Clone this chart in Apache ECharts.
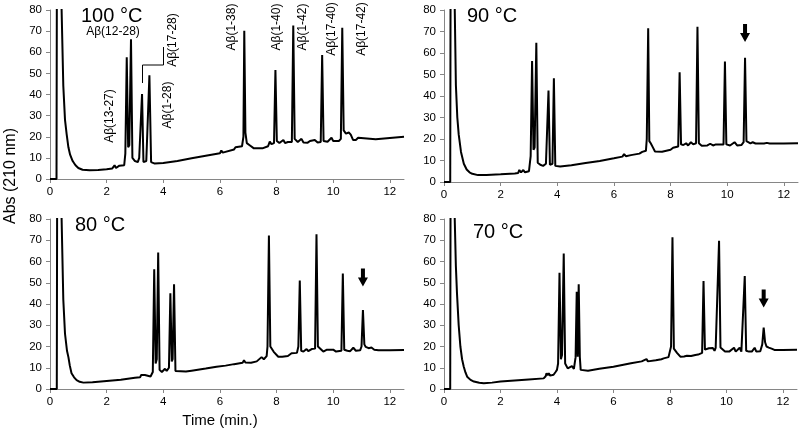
<!DOCTYPE html>
<html>
<head>
<meta charset="utf-8">
<script src="https://cdn.jsdelivr.net/npm/echarts@6/dist/echarts.min.js"></script>
<style>
  html, body { margin: 0; padding: 0; background: #fff; }
  #main { width: 800px; height: 435px; }
</style>
</head>
<body>
<div id="main"></div>
<script>
// chromatograms, [time (min), Abs]
const trace100 = [
  [0, 0], [0.23, 0], [0.25, 150], [0.39, 150], [0.41, 80], [0.47, 44], [0.53, 28], [0.59, 21],
  [0.65, 15], [0.71, 11.5], [0.8, 8.5], [0.9, 6.5], [1.0, 5.2], [1.15, 4.4], [1.4, 4.2], [1.7, 4.3],
  [2.0, 4.6], [2.2, 5.0], [2.28, 6.5], [2.33, 5.2], [2.45, 6.3], [2.52, 5.5], [2.62, 6.5], [2.66, 12],
  [2.71, 57.6], [2.76, 15], [2.8, 16], [2.86, 66.1], [2.91, 10], [3.0, 8.5], [3.1, 8.0], [3.15, 10],
  [3.2, 9.5], [3.25, 40.2], [3.3, 8], [3.4, 8.5], [3.46, 9], [3.51, 49.1], [3.57, 8], [3.7, 7.3],
  [4.0, 7.6], [4.5, 8.5], [5.0, 9.8], [5.5, 11], [6.0, 12.2], [6.05, 13.5], [6.1, 12.5], [6.5, 14],
  [6.55, 15], [6.6, 14.3], [6.78, 15.5], [6.83, 20], [6.86, 70.2], [6.9, 22], [6.95, 17], [7.05, 16],
  [7.2, 14.5], [7.5, 14.5], [7.7, 15.5], [7.76, 17.7], [7.82, 16.5], [7.91, 17], [7.96, 51.6], [8.01, 18],
  [8.1, 17], [8.24, 18.5], [8.3, 17], [8.4, 17.5], [8.54, 17.5], [8.59, 72.6], [8.64, 19], [8.75, 17.5],
  [8.88, 19], [8.95, 17.3], [9.1, 17.2], [9.18, 18], [9.25, 17.2], [9.35, 18.5], [9.45, 17.3], [9.56, 17.5],
  [9.61, 58.7], [9.66, 18], [9.8, 17.6], [9.94, 19.5], [10.0, 18], [10.2, 18], [10.27, 19], [10.32, 71.6],
  [10.37, 23], [10.45, 21.5], [10.55, 22], [10.62, 21], [10.7, 18.5], [10.8, 18.5], [10.88, 19.5], [10.95, 18.6],
  [11.5, 18.8], [12.0, 19.4], [12.5, 20]
];
const trace90 = [
  [0, 0], [0.22, 0], [0.24, 150], [0.36, 150], [0.38, 80], [0.42, 45], [0.47, 30], [0.52, 22],
  [0.6, 14], [0.7, 8.5], [0.8, 5.8], [0.9, 4.5], [1.0, 3.8], [1.2, 3.2], [1.5, 3.3], [2.0, 3.6],
  [2.5, 4.0], [2.62, 4.2], [2.66, 5.6], [2.72, 4.5], [2.8, 5.6], [2.86, 4.5], [3.0, 5.0], [3.06, 12],
  [3.11, 56.3], [3.16, 15], [3.2, 16], [3.26, 64.8], [3.31, 9], [3.4, 8], [3.5, 7.5], [3.6, 8.5],
  [3.64, 9], [3.69, 42.5], [3.74, 8], [3.83, 8.5], [3.88, 48.2], [3.93, 7.5], [4.1, 7.2], [4.5, 7.8],
  [5.0, 8.8], [5.5, 9.8], [6.0, 11], [6.3, 11.8], [6.36, 13], [6.42, 12], [6.6, 12.5], [6.9, 13.2],
  [7.0, 14], [7.05, 13.5], [7.13, 14.5], [7.16, 20], [7.21, 71.5], [7.25, 19], [7.3, 18], [7.38, 16],
  [7.45, 14.2], [7.7, 14.1], [8.0, 15], [8.09, 15.9], [8.15, 15.5], [8.27, 16.5], [8.32, 51.0], [8.37, 17.5],
  [8.45, 17.2], [8.55, 18], [8.62, 17], [8.72, 18.5], [8.8, 17.5], [8.9, 18], [8.95, 72.2], [9.0, 18],
  [9.1, 16.9], [9.3, 17], [9.4, 17.8], [9.5, 17], [9.6, 17.5], [9.87, 17.5], [9.92, 56], [9.97, 17.5],
  [10.1, 17], [10.26, 18.5], [10.35, 17], [10.5, 17.2], [10.58, 18.5], [10.63, 57.8], [10.68, 19], [10.75, 18.9],
  [10.82, 18], [10.9, 18.5], [11.0, 17.9], [11.3, 17.9], [11.4, 18.2], [11.5, 17.9], [12.0, 17.9], [12.5, 18]
];
const trace80 = [
  [0, 0], [0.24, 0], [0.26, 150], [0.39, 150], [0.41, 80], [0.47, 42], [0.53, 26], [0.6, 18],
  [0.65, 15], [0.7, 11], [0.76, 7.4], [0.85, 5.5], [0.94, 4.2], [1.05, 3.4], [1.18, 3.0], [1.5, 3.2],
  [2.0, 3.8], [2.5, 4.4], [3.0, 5.3], [3.18, 5.5], [3.22, 6.6], [3.28, 5.8], [3.35, 6.6], [3.42, 5.8],
  [3.55, 5.9], [3.63, 8], [3.68, 56.3], [3.73, 12], [3.77, 14], [3.82, 64.2], [3.87, 9], [3.95, 8],
  [4.06, 9.5], [4.12, 8.5], [4.2, 10], [4.25, 45], [4.3, 13], [4.33, 14], [4.38, 49.3], [4.43, 8.5],
  [4.5, 8.2], [4.8, 8.2], [5.0, 8.6], [5.5, 9.6], [5.88, 10.5], [6.2, 11], [6.5, 11.7], [6.8, 12.3],
  [6.85, 13.5], [6.9, 12.5], [7.1, 12.4], [7.3, 13], [7.47, 15], [7.55, 14], [7.65, 15.5], [7.68, 20],
  [7.73, 72.2], [7.78, 20], [7.83, 19.1], [7.9, 17.5], [8.06, 15.2], [8.2, 15.2], [8.4, 15.5], [8.53, 16.8],
  [8.6, 16], [8.72, 17], [8.77, 20], [8.82, 51.1], [8.87, 18], [8.95, 17.6], [9.06, 18.8], [9.12, 17.8],
  [9.24, 18.8], [9.3, 18], [9.36, 19], [9.41, 72.8], [9.46, 20], [9.52, 19.1], [9.65, 17.6], [9.78, 18.5],
  [9.85, 17.6], [10.0, 18.5], [10.1, 17.6], [10.29, 18], [10.34, 54.4], [10.39, 18.5], [10.5, 18], [10.6, 17.8],
  [10.71, 19.4], [10.8, 18], [10.95, 18.2], [11.0, 20], [11.05, 37.2], [11.1, 21], [11.15, 19.8], [11.25, 19.2],
  [11.35, 19.5], [11.45, 18.5], [11.6, 18.2], [12.0, 18.2], [12.5, 18.3]
];
const trace70 = [
  [0, 0], [0.22, 0], [0.24, 150], [0.36, 150], [0.38, 80], [0.42, 58], [0.46, 45], [0.52, 30],
  [0.58, 20], [0.64, 14], [0.7, 10.5], [0.76, 7.8], [0.82, 5.8], [0.94, 4.3], [1.06, 3.5], [1.25, 2.9],
  [1.41, 2.7], [1.7, 3.0], [2.0, 3.5], [2.5, 4.0], [3.0, 4.5], [3.53, 5.0], [3.6, 6.0], [3.63, 7.4],
  [3.67, 6.4], [3.71, 7.4], [3.76, 6.3], [3.88, 6.7], [3.95, 8], [4.0, 9], [4.04, 12], [4.09, 54.7],
  [4.14, 14], [4.18, 16], [4.24, 63.8], [4.29, 12], [4.38, 9.7], [4.45, 9.3], [4.53, 10.8], [4.6, 9.5],
  [4.64, 9.5], [4.66, 15], [4.7, 45.8], [4.735, 15.2], [4.77, 49.3], [4.81, 15], [4.84, 9], [4.9, 8.9],
  [5.1, 8.6], [5.5, 9.5], [6.0, 10.5], [6.62, 12.1], [7.0, 13], [7.17, 14.1], [7.22, 13], [7.5, 13.5],
  [7.7, 14], [7.78, 14.4], [7.85, 15], [7.95, 15], [8.04, 20], [8.09, 71.4], [8.14, 19], [8.18, 18.4],
  [8.25, 17], [8.37, 15.2], [8.5, 15.3], [8.6, 15.6], [8.75, 15.5], [8.9, 16], [9.0, 16.2], [9.14, 17],
  [9.19, 50.8], [9.24, 18.5], [9.3, 18.8], [9.38, 19.2], [9.45, 18.5], [9.52, 19.3], [9.58, 18], [9.62, 19.3],
  [9.69, 20], [9.74, 69.8], [9.79, 19.5], [9.85, 19.1], [9.95, 17.6], [10.1, 17.6], [10.27, 19.4], [10.33, 17.6],
  [10.47, 19.4], [10.53, 17.6], [10.6, 18], [10.65, 53.2], [10.7, 18], [10.8, 17.6], [10.9, 17.6], [11.0, 19.4],
  [11.06, 17.6], [11.2, 17.8], [11.27, 21], [11.32, 28.9], [11.37, 22], [11.42, 20], [11.5, 19.5], [11.6, 19],
  [11.7, 18.4], [12.0, 18.4], [12.5, 18.5]
];
const panelTitles = ['100 °C', '90 °C', '80 °C', '70 °C'];
// arrows marking the extra peak: [time, Abs]
const arrow90 = [10.63, 69.3];
const arrow80 = [11.05, 52.5];
const arrow70 = [11.32, 42.6];

const xMin = 0, xMax = 12.5, xStep = 2;
const yMin = 0, yMax = 80, yStep = 10;

const font = 'Liberation Sans, Arial, sans-serif';
const axisGray = '#868686';

const grids = [
  { left: 50, top: 10, width: 354, height: 169 },
  { left: 444, top: 10, width: 354, height: 172 },
  { left: 50, top: 219, width: 354, height: 170 },
  { left: 444, top: 219, width: 353, height: 170 }
];

function xAxisFor(i) {
  return {
    type: 'value', gridIndex: i, min: xMin, max: xMax, interval: xStep,
    axisLine: { show: true, lineStyle: { color: axisGray, width: 1 } },
    axisTick: { show: true, length: 4, lineStyle: { color: axisGray } },
    axisLabel: { color: '#000', fontSize: 11.5, fontFamily: font, margin: 7, showMaxLabel: false },
    splitLine: { show: false }
  };
}
function yAxisFor(i) {
  return {
    type: 'value', gridIndex: i, min: yMin, max: yMax, interval: yStep,
    axisLine: { show: true, lineStyle: { color: axisGray, width: 1 } },
    axisTick: { show: true, length: 4, lineStyle: { color: axisGray } },
    axisLabel: { color: '#000', fontSize: 11.5, fontFamily: font, margin: 8 },
    splitLine: { show: false }
  };
}

const arrowPath = 'path://M3,0L7,0L7,9L10,9L5,18L0,9L3,9Z';
function arrowMark(coord) {
  return {
    symbol: arrowPath, symbolSize: [10, 18], silent: true,
    label: { show: false },
    itemStyle: { color: '#000' },
    data: [{ coord: coord }]
  };
}

function traceSeries(i, data, arrow) {
  const s = {
    type: 'line', xAxisIndex: i, yAxisIndex: i, data: data,
    showSymbol: false, symbol: 'none', clip: true,
    lineStyle: { color: '#000', width: 2 },
    animation: false
  };
  if (arrow) s.markPoint = arrowMark(arrow);
  return s;
}

function label(text, x, y, opts) {
  return Object.assign({
    type: 'text', x: x, y: y, silent: true,
    style: {
      text: text, fill: '#000', font: (opts && opts.size || 12) + 'px ' + font,
      textAlign: 'center', textVerticalAlign: 'middle', align: 'center', verticalAlign: 'middle'
    }
  }, opts && opts.rot ? { rotation: Math.PI / 2 } : {});
}
function titleText(text, x, y) {
  return {
    type: 'text', x: x, y: y, silent: true,
    style: {
      text: text, fill: '#000', font: '20px ' + font,
      textAlign: 'left', textVerticalAlign: 'middle', align: 'left', verticalAlign: 'middle'
    }
  };
}

const chart = echarts.init(document.getElementById('main'));
chart.setOption({
  animation: false,
  backgroundColor: '#fff',
  grid: grids.map(g => Object.assign({ outerBoundsMode: 'none', containLabel: false }, g)),
  xAxis: [0, 1, 2, 3].map(xAxisFor),
  yAxis: [0, 1, 2, 3].map(yAxisFor),
  series: [
    traceSeries(0, trace100),
    traceSeries(1, trace90, arrow90),
    traceSeries(2, trace80, arrow80),
    traceSeries(3, trace70, arrow70)
  ],
  graphic: [
    titleText(panelTitles[0], 81, 16),
    titleText(panelTitles[1], 467, 16),
    titleText(panelTitles[2], 75, 225),
    titleText(panelTitles[3], 473, 232),
    // peak labels, 100 °C panel
    label('Aβ(12-28)', 113, 32),
    label('Aβ(13-27)', 110, 116, { rot: true }),
    label('Aβ(1-28)', 168, 105, { rot: true }),
    label('Aβ(17-28)', 173, 40, { rot: true }),
    label('Aβ(1-38)', 232, 27, { rot: true }),
    label('Aβ(1-40)', 277, 27, { rot: true }),
    label('Aβ(1-42)', 303, 27, { rot: true }),
    label('Aβ(17-40)', 332, 29, { rot: true }),
    label('Aβ(17-42)', 362, 29, { rot: true }),
    {
      type: 'polyline', silent: true,
      shape: { points: [[142.5, 83], [142.5, 65], [163.5, 65], [163.5, 47]] },
      style: { stroke: '#000', lineWidth: 1, fill: null }
    },
    // axis titles
    label('Abs (210 nm)', 11, 176, { rot: true, size: 16 }),
    label('Time (min.)', 220, 421, { size: 15 })
  ]
});
</script>
</body>
</html>
